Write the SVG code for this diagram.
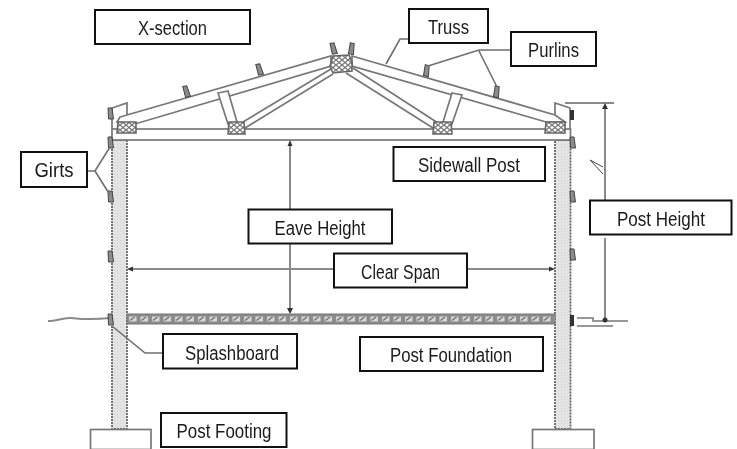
<svg xmlns="http://www.w3.org/2000/svg" width="737" height="449" viewBox="0 0 737 449">
<style>
.b{fill:#fff;stroke:#111;stroke-width:2}
.t{font-family:"Liberation Sans",Arial,sans-serif;font-size:20px;fill:#1a1a1a;text-anchor:middle}
.s{fill:none;stroke:#777;stroke-width:1.7}
.w{fill:#fff;stroke:#777;stroke-width:1.7}
.l{fill:none;stroke:#6e6e6e;stroke-width:1.6}
.d{fill:none;stroke:#8a8a8a;stroke-width:2}
.h{fill:url(#stip);stroke:#666;stroke-width:1.8;stroke-dasharray:2 1}
.n{fill:url(#cross);stroke:#666;stroke-width:1.6}
.p{fill:#8c8c8c;stroke:#444;stroke-width:1}
.a{fill:#333}
</style>
<defs>
<filter id="soft" x="-2%" y="-2%" width="104%" height="104%"><feGaussianBlur stdDeviation="0.45"/></filter>
<pattern id="stip" width="3" height="3" patternUnits="userSpaceOnUse"><rect width="3" height="3" fill="#e6e6e6"/><rect width="1" height="1" fill="#cfcfcf"/><rect x="1.5" y="1.5" width="1" height="1" fill="#d6d6d6"/></pattern>
<pattern id="cross" width="6" height="5" patternUnits="userSpaceOnUse"><rect width="6" height="5" fill="#fff"/><path d="M0 0L6 5M6 0L0 5" stroke="#777" stroke-width="1.300"/></pattern>
<pattern id="slab" width="11.500" height="10" x="127" y="314" patternUnits="userSpaceOnUse"><rect width="11.500" height="10" fill="#8a8a8a"/><rect x="2" y="2.500" width="7.500" height="5" fill="#d8d8d8"/><path d="M3 6.500L7.500 3" stroke="#666" stroke-width="1.200"/></pattern>
<path id="pur" d="M-2-6H2L3.500 5H-1.500Z"/>
</defs>

<g id="structure" filter="url(#soft)">
<rect class="h" x="112" y="140" width="15" height="289"/>
<rect class="h" x="555" y="140" width="15.500" height="289"/>
<path class="w" d="M112 129V108L127 103V117"/>
<path class="w" d="M555 129V103L570 108V129"/>
<rect class="w" x="112" y="129" width="458.500" height="11"/>
<rect x="127" y="314" width="428" height="10" fill="url(#slab)" stroke="#777"/>
<rect class="w" x="90.500" y="429.500" width="60.500" height="20"/>
<rect class="w" x="532.500" y="429.500" width="61.500" height="20"/>
<path class="w" d="M120 117L331 56V66L135 124L117 122Z"/>
<path class="w" d="M352 56L555 115L565 122H546L352 66Z"/>
<path class="s" d="M243 122L331 69M245 128L333 74M353 68L438 123M346 73L433 128"/>
<path class="w" d="M218 93L228 91L237 122L228 124Z"/>
<path class="w" d="M452 93L462 95L452 124L443 122Z"/>
<path class="d" d="M48 321C55 322 62 317 72 318S90 320 110 318"/>
<path d="M577 318H593L593 321H628M577 326H613" fill="none" stroke="#777" stroke-width="1.500"/>
<path d="M590 160L603 167M590 160L603 174" fill="none" stroke="#444" stroke-width="1"/>
</g>

<g id="truss-nodes" filter="url(#soft)">
<path id="node-left" class="n" d="M118 122H136V133H117Z"/>
<path id="node-apex" class="n" d="M333 56L349 55L352 62V71L333 73L330 66Z"/>
<path id="node-right" class="n" d="M546 122H565V133H545Z"/>
<path id="node-l2" class="n" d="M229 122H244L245 134H228Z"/>
<path id="node-r2" class="n" d="M434 122H451L452 134H433Z"/>
</g>

<g id="purlins" filter="url(#soft)">
<use href="#pur" class="p" x="186" y="92" transform="rotate(-12 186 92)"/>
<use href="#pur" class="p" x="259" y="70" transform="rotate(-12 259 70)"/>
<use href="#pur" class="p" x="333" y="49" transform="rotate(-10 333 49)"/>
<use href="#pur" class="p" x="351" y="49" transform="rotate(12 351 49)"/>
<use href="#pur" class="p" x="426" y="71" transform="rotate(12 426 71)"/>
<use href="#pur" class="p" x="496" y="92" transform="rotate(12 496 92)"/>
<use href="#pur" class="p" x="110" y="114"/>
<use href="#pur" class="p" x="110" y="143"/>
<use href="#pur" class="p" x="110" y="197"/>
<use href="#pur" class="p" x="110" y="257"/>
<use href="#pur" class="p" x="110" y="320"/>
<use href="#pur" class="p" x="572" y="143"/>
<use href="#pur" class="p" x="572" y="197"/>
<use href="#pur" class="p" x="572" y="255"/>
<rect x="570" y="110" width="4" height="10" class="a"/>
<rect x="570" y="315" width="4" height="11" class="a"/>
</g>

<g id="connectors">
<path class="l" d="M386 64L400 39H409"/>
<path class="l" d="M511 50H479L428 66M479 51L497 87"/>
<path class="l" d="M87 171H95L110 147M95 171L110 195"/>
<path class="l" d="M112 326L145 353H163"/>
<path class="d" d="M290 144V209M290 244V312M131 269H334M467 269H551M605 105V200M605 238V320M565 103H614"/>
<path class="a" d="M290 140L292.500 146H287.500ZM290 314L287 308H293ZM127 269L133 266.500V271.500ZM555 269L549 266.500V271.500ZM605 103L608 109H602Z"/>
<circle class="a" cx="605" cy="320" r="2.500"/>
</g>

<g id="x-section"><rect class="b" x="95" y="10" width="155" height="34"/><text class="t" x="172.500" y="35" textLength="69" lengthAdjust="spacingAndGlyphs">X-section</text></g>
<g id="truss"><rect class="b" x="409" y="9" width="79" height="34"/><text class="t" x="448.500" y="34" textLength="41" lengthAdjust="spacingAndGlyphs">Truss</text></g>
<g id="purlins-label"><rect class="b" x="511" y="32" width="85" height="34"/><text class="t" x="553.500" y="57" textLength="51" lengthAdjust="spacingAndGlyphs">Purlins</text></g>
<g id="sidewall-post"><rect class="b" x="393.500" y="147" width="151.500" height="34"/><text class="t" x="469" y="172" textLength="102" lengthAdjust="spacingAndGlyphs">Sidewall Post</text></g>
<g id="girts"><rect class="b" x="21" y="152" width="66" height="35"/><text class="t" x="54" y="177" textLength="39" lengthAdjust="spacingAndGlyphs">Girts</text></g>
<g id="eave-height"><rect class="b" x="248.500" y="209.500" width="143.500" height="34"/><text class="t" x="320" y="235" textLength="91" lengthAdjust="spacingAndGlyphs">Eave Height</text></g>
<g id="clear-span"><rect class="b" x="334" y="253.500" width="133" height="34"/><text class="t" x="400.500" y="279" textLength="79" lengthAdjust="spacingAndGlyphs">Clear Span</text></g>
<g id="post-height"><rect class="b" x="590" y="200.500" width="141.500" height="34"/><text class="t" x="661" y="226" textLength="88" lengthAdjust="spacingAndGlyphs">Post Height</text></g>
<g id="splashboard"><rect class="b" x="163" y="334" width="134" height="34.500"/><text class="t" x="232" y="360" textLength="94" lengthAdjust="spacingAndGlyphs">Splashboard</text></g>
<g id="post-foundation"><rect class="b" x="360" y="337" width="183" height="34"/><text class="t" x="451" y="362" textLength="122" lengthAdjust="spacingAndGlyphs">Post Foundation</text></g>
<g id="post-footing"><rect class="b" x="161" y="413" width="125.500" height="34"/><text class="t" x="224" y="438" textLength="95" lengthAdjust="spacingAndGlyphs">Post Footing</text></g>
</svg>
